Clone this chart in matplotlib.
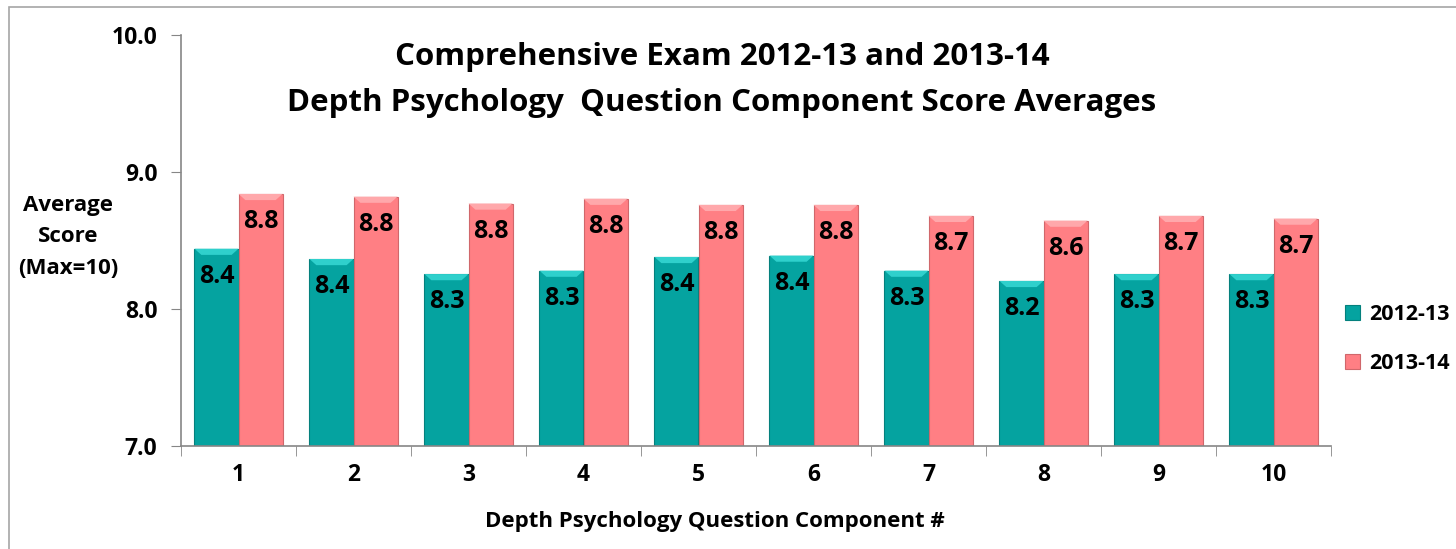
import matplotlib
matplotlib.use("Agg")
import matplotlib.pyplot as plt
import numpy as np
from matplotlib.patches import Rectangle, Polygon

categories = ["1", "2", "3", "4", "5", "6", "7", "8", "9", "10"]
series_names = ["2012-13", "2013-14"]
vals_2012 = [8.44, 8.365, 8.255, 8.28, 8.38, 8.39, 8.28, 8.205, 8.255, 8.255]
vals_2013 = [8.84, 8.82, 8.77, 8.805, 8.76, 8.76, 8.68, 8.645, 8.68, 8.66]
yticks = [7.0, 8.0, 9.0, 10.0]

plt.rcParams['font.family'] = ['Open Sans', 'DejaVu Sans']
W, H = 1456, 549
fig = plt.figure(figsize=(W/100, H/100), dpi=100)
fig.patches.append(Rectangle((9/W, -0.1), 2, (1 - 7/H) + 0.1, transform=fig.transFigure,
                             fill=False, edgecolor='#a6a6a6', linewidth=1.2))
ax = fig.add_axes([181/W, 1 - 446/H, (1331-181)/W, (446-35)/H])

x = np.arange(len(categories))
bw = 0.383
teal = '#05A3A0'
pink = '#FF7F84'
b1 = ax.bar(x - bw/2, vals_2012, bw, color=teal, edgecolor='#04807d', linewidth=0.8, label=series_names[0])
b2 = ax.bar(x + bw/2, vals_2013, bw, color=pink, edgecolor='#d0676b', linewidth=0.8, label=series_names[1])

# bevel highlight on top of bars (trapezoid)
for bars, c in ((b1, '#2fd0cc'), (b2, '#ffa8ab')):
    for r in bars:
        h = r.get_height()
        x0, w = r.get_x(), r.get_width()
        d = 0.045
        ax.add_patch(Polygon([(x0, h), (x0 + w, h), (x0 + w - 0.06, h - d), (x0 + 0.06, h - d)],
                             closed=True, facecolor=c, edgecolor='none', zorder=3))

ax.set_ylim(7.0, 10.0)
ax.set_xlim(-0.5, len(categories) - 0.5)
ax.set_yticks(yticks)
ax.set_yticklabels([f"{t:.1f}" for t in yticks], fontsize=16.5, fontweight='bold')
ax.set_xticks(x)
ax.set_xticklabels(categories, fontsize=16.5, fontweight='bold')
ax.set_xticks(np.arange(len(categories) + 1) - 0.5, minor=True)
ax.tick_params(axis='x', which='major', length=0, pad=12)
ax.tick_params(axis='x', which='minor', length=7, color='#868686', direction='out')
ax.tick_params(axis='y', length=7, color='#868686', direction='out', pad=10)
for s in ['top', 'right']:
    ax.spines[s].set_visible(False)
for s in ['left', 'bottom']:
    ax.spines[s].set_color('#868686')
    ax.spines[s].set_linewidth(1.2)

for bars, vals in ((b1, vals_2012), (b2, vals_2013)):
    for r, v in zip(bars, vals):
        ax.annotate(f"{v:.1f}", (r.get_x() + r.get_width()/2, v), xytext=(0, -20),
                    textcoords='offset points', ha='center', va='center',
                    fontsize=18, fontweight='bold', zorder=5)

fig.text(722/W, 1 - 57/H, "Comprehensive Exam 2012-13 and 2013-14", ha='center', va='center',
         fontsize=22.5, fontweight='bold')
fig.text(722/W, 1 - 103/H, "Depth Psychology  Question Component Score Averages", ha='center', va='center',
         fontsize=22.5, fontweight='bold')
fig.text(68/W, 1 - 237/H, "Average\nScore\n(Max=10)", ha='center', va='center',
         fontsize=16, fontweight='bold', linespacing=1.65)
fig.text(715/W, 1 - 522/H, "Depth Psychology Question Component #", ha='center', va='center',
         fontsize=16, fontweight='bold')

leg = fig.legend(handles=[b1, b2], labels=series_names, loc='center left',
                 bbox_to_anchor=(1326/W, 1 - 339/H), frameon=False,
                 prop={'size': 15.5, 'weight': 'bold'}, handlelength=0.7, handleheight=0.7,
                 labelspacing=1.3, handletextpad=0.4)

fig.savefig("out.png", dpi=100)
